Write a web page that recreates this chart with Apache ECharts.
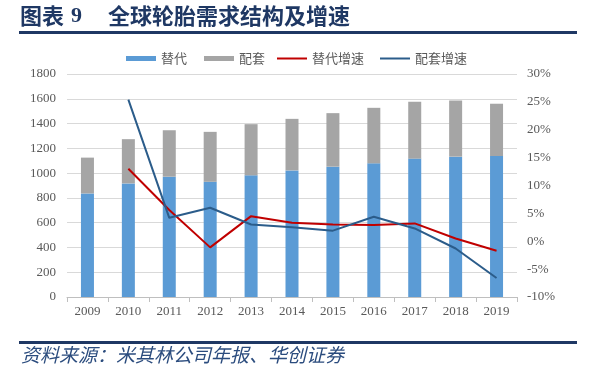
<!DOCTYPE html>
<html><head><meta charset="utf-8">
<script src="https://cdn.jsdelivr.net/npm/echarts@6/dist/echarts.min.js"></script>
<style>html,body{margin:0;padding:0;background:#fff}#c{width:592px;height:367px}</style>
</head><body><div id="c"></div>
<script>
const years = ['2009','2010','2011','2012','2013','2014','2015','2016','2017','2018','2019'];
const replacement = [836, 917, 971, 930, 982, 1022, 1052, 1079, 1117, 1133, 1138];
const oem = [289, 357, 375, 403, 413, 416, 432, 448, 459, 453, 422];
const replacementGrowth = [null, 13.0, 5.6, -1.1, 4.5, 3.3, 3.0, 2.9, 3.2, 0.5, -1.7];
const oemGrowth = [null, 25.4, 4.2, 6.0, 3.0, 2.5, 1.9, 4.4, 2.3, -1.3, -6.6];
const leftTicks = {min: 0, max: 1800, interval: 200};
const rightTicks = {min: -10, max: 30, interval: 5};

const serif = "'Liberation Serif', 'DejaVu Serif', serif";
const cjk = "'Noto Sans CJK SC', sans-serif";
const navy = '#1F3864';
const chart = echarts.init(document.getElementById('c'));
chart.setOption({
  animation: false,
  backgroundColor: '#fff',
  graphic: [
    {type: 'text', left: 20, top: 5, style: {text: '图表', font: "bold 22px " + cjk, fill: navy}},
    {type: 'text', left: 71, top: 5, style: {text: '9', font: "bold 22px " + serif, fill: navy}},
    {type: 'text', left: 108, top: 5, style: {text: '全球轮胎需求结构及增速', font: "bold 22px " + cjk, fill: navy}},
    {type: 'rect', shape: {x: 19, y: 31, width: 558, height: 3}, style: {fill: navy}},
    {type: 'rect', shape: {x: 19, y: 341, width: 558, height: 3}, style: {fill: navy}},
    {type: 'text', left: 21, top: 345, style: {text: '资料来源：米其林公司年报、华创证券', font: "italic 19px " + cjk, fill: '#2B4C7E'}}
  ],
  legend: [
    {
      left: 121, top: 47,
      itemWidth: 30, itemHeight: 5, itemGap: 17,
      textStyle: {fontFamily: cjk, fontSize: 13, color: '#595959'},
      data: [{name: '替代', icon: 'rect'}, {name: '配套', icon: 'rect'}]
    },
    {
      left: 272, top: 47,
      itemWidth: 30, itemHeight: 2, itemGap: 16,
      textStyle: {fontFamily: cjk, fontSize: 13, color: '#595959'},
      data: [{name: '替代增速', icon: 'rect'}, {name: '配套增速', icon: 'rect'}]
    }
  ],
  grid: {left: 67, right: 75, top: 74, bottom: 70},
  xAxis: {
    type: 'category', data: years,
    axisLine: {lineStyle: {color: '#BFBFBF'}},
    axisTick: {show: true, length: 5, lineStyle: {color: '#BFBFBF'}},
    axisLabel: {fontFamily: serif, fontSize: 13, color: '#595959', margin: 8}
  },
  yAxis: [
    {
      type: 'value', min: leftTicks.min, max: leftTicks.max, interval: leftTicks.interval,
      axisLine: {show: false}, axisTick: {show: false},
      splitLine: {lineStyle: {color: '#D9D9D9'}},
      axisLabel: {fontFamily: serif, fontSize: 13, color: '#595959', margin: 11, formatter: v => String(v)}
    },
    {
      type: 'value', min: rightTicks.min, max: rightTicks.max, interval: rightTicks.interval,
      axisLine: {show: false}, axisTick: {show: false}, splitLine: {show: false},
      axisLabel: {fontFamily: serif, fontSize: 13, color: '#595959', margin: 10, formatter: v => v + '%'}
    }
  ],
  series: [
    {name: '替代', type: 'bar', stack: 'tot', data: replacement, barWidth: 13, itemStyle: {color: '#5B9BD5'}},
    {name: '配套', type: 'bar', stack: 'tot', data: oem, barWidth: 13, itemStyle: {color: '#A5A5A5'}},
    {name: '替代增速', type: 'line', yAxisIndex: 1, data: replacementGrowth, symbol: 'none', showSymbol: false,
      lineStyle: {color: '#C00000', width: 2}, itemStyle: {color: '#C00000'}},
    {name: '配套增速', type: 'line', yAxisIndex: 1, data: oemGrowth, symbol: 'none', showSymbol: false,
      lineStyle: {color: '#2B5C8A', width: 2}, itemStyle: {color: '#2B5C8A'}}
  ]
});
</script></body></html>
